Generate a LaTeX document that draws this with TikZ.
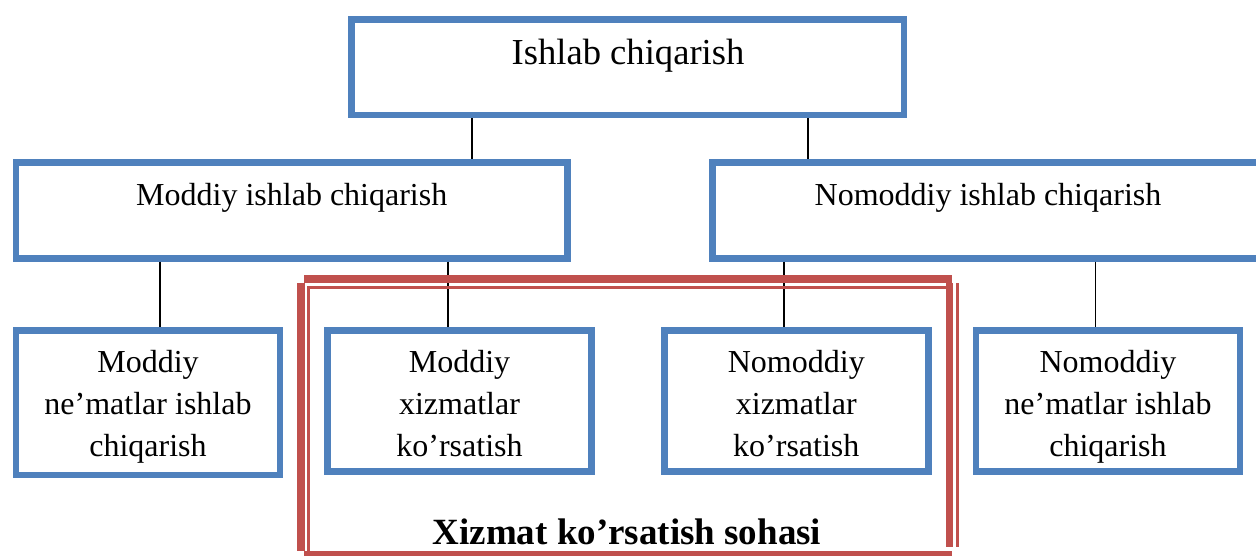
\documentclass[tikz,border=0pt]{standalone}
\usepackage{fontspec}
\setmainfont{Liberation Serif}
\definecolor{boxblue}{HTML}{4F81BD}
\definecolor{framered}{HTML}{C0504D}
\begin{document}
\begin{tikzpicture}[x=1pt,y=-1pt,
  bluebox/.style={draw=boxblue, line width=6.5pt, inner sep=0pt, fill=white},
  conn/.style={draw=black, line width=1.9pt},
  lbl/.style={inner sep=0pt, anchor=base, font=\fontsize{32}{42}\selectfont},
  mlbl/.style={inner sep=0pt, anchor=north, align=center, font=\fontsize{32}{42}\selectfont},
  redpart/.style={fill=framered}]
\useasboundingbox (0,0) rectangle (1256,556);
\clip (0,0) rectangle (1256,556);
\fill[white] (0,0) rectangle (1256,556);
% boxes
\node[bluebox, minimum width=552.5pt, minimum height=95.5pt] (top) at (627.75,67.25) {};
\node[bluebox, minimum width=551.5pt, minimum height=95.8pt] (mod) at (291.75,210.6) {};
\node[bluebox, minimum width=551.7pt, minimum height=96pt] (nom) at (988.2,210.5) {};
\node[bluebox, minimum width=264pt, minimum height=144.3pt] (b1) at (148,402.85) {};
\node[bluebox, minimum width=264.4pt, minimum height=140.8pt] (b2) at (459.5,401.1) {};
\node[bluebox, minimum width=264pt, minimum height=140.8pt] (b3) at (796.3,401.1) {};
\node[bluebox, minimum width=264pt, minimum height=141pt] (b4) at (1108,401.2) {};
% texts
\node[lbl, font=\fontsize{36.6}{42}\selectfont] (t0) at (628,65) {Ishlab chiqarish};
\node[lbl] (t1) at (291.75,205.7) {Moddiy ishlab chiqarish};
\node[lbl] (t2) at (988,205.3) {Nomoddiy ishlab chiqarish};
\node[mlbl] (t3) at (148,350.3) {Moddiy\\ne’matlar ishlab\\chiqarish};
\node[mlbl] (t4) at (459.5,350.3) {Moddiy\\xizmatlar\\ko’rsatish};
\node[mlbl] (t5) at (796.3,350.3) {Nomoddiy\\xizmatlar\\ko’rsatish};
\node[mlbl] (t6) at (1108,350.3) {Nomoddiy\\ne’matlar ishlab\\chiqarish};
% connectors
\coordinate (c1) at (472,0);
\coordinate (c2) at (808,0);
\coordinate (c3) at (160,0);
\coordinate (c4) at (448,0);
\coordinate (c5) at (784,0);
\coordinate (c6) at (1095.5,0);
\draw[conn] (top.south -| c1) -- (mod.north -| c1);
\draw[conn] (top.south -| c2) -- (nom.north -| c2);
\draw[conn] (mod.south -| c3) -- (b1.north -| c3);
\draw[conn] (mod.south -| c4) -- (b2.north -| c4);
\draw[conn] (nom.south -| c5) -- (b3.north -| c5);
\draw[conn] (nom.south -| c6) -- (b4.north -| c6);
% red double frame
\fill[redpart] (304,275.3) rectangle (952,282.7);
\fill[redpart] (310,286) rectangle (946,289.3);
\fill[redpart] (297,283) rectangle (305,551);
\fill[redpart] (307,286) rectangle (310,551);
\fill[redpart] (946,283) rectangle (953,547);
\fill[redpart] (956,283) rectangle (959,547);
\fill[redpart] (304,551) rectangle (952,558);
\node[inner sep=0pt, anchor=base, font=\bfseries\fontsize{37}{42}\selectfont] (t7) at (627,544.3) {Xizmat ko’rsatish sohasi};
\end{tikzpicture}
\end{document}
